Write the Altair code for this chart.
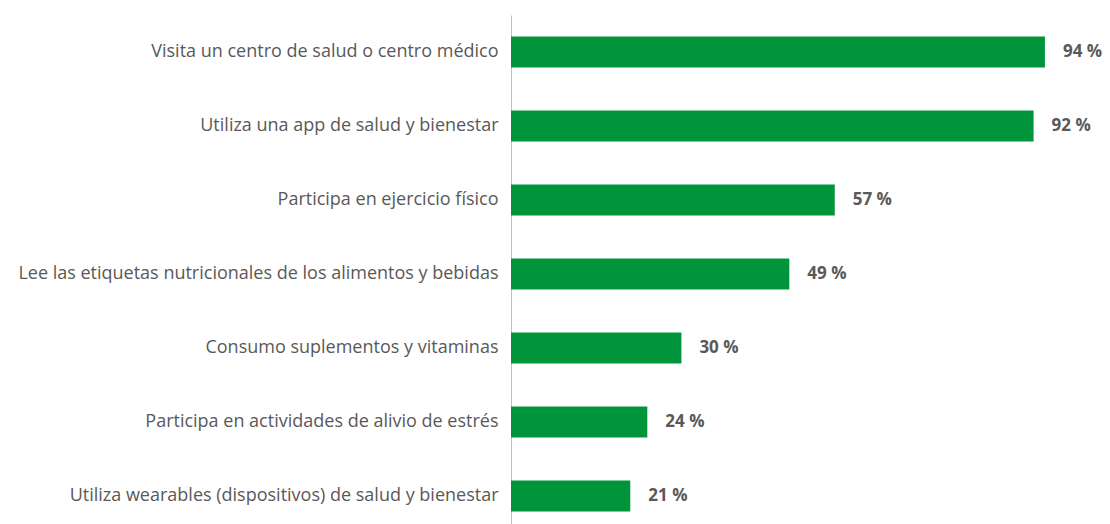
import altair as alt
import pandas as pd

categories = [
    "Visita un centro de salud o centro médico",
    "Utiliza una app de salud y bienestar",
    "Participa en ejercicio físico",
    "Lee las etiquetas nutricionales de los alimentos y bebidas",
    "Consumo suplementos y vitaminas",
    "Participa en actividades de alivio de estrés",
    "Utiliza wearables (dispositivos) de salud y bienestar",
]
values = [94, 92, 57, 49, 30, 24, 21]

df = pd.DataFrame({"categoria": categories, "valor": values})

y_enc = alt.Y(
    "categoria:N",
    sort=categories,
    title=None,
    scale=alt.Scale(paddingInner=0.58, paddingOuter=0.29),
    axis=alt.Axis(
        ticks=False,
        domain=True,
        domainColor="#bfbfbf",
        domainWidth=1,
        labelFont="Open Sans",
        labelFontSize=18,
        labelColor="#595959",
        labelPadding=13,
        labelLimit=520,
        grid=False,
    ),
)
x_enc = alt.X("valor:Q", scale=alt.Scale(domain=[0, 100]), axis=None)

base = alt.Chart(df).encode(y=y_enc, x=x_enc)

bars = base.mark_bar(color="#00953b")

labels = (
    base.transform_calculate(etiqueta="datum.valor + ' %'")
    .mark_text(
        align="left",
        baseline="middle",
        dx=18,
        font="Open Sans",
        fontSize=17,
        fontWeight="bold",
        color="#595959",
    )
    .encode(text="etiqueta:N")
)

chart = (
    alt.layer(bars, labels)
    .properties(
        width=568,
        height=518,
        background="white",
        autosize=alt.AutoSizeParams(type="none"),
        padding={"left": 503, "top": 7, "right": 23, "bottom": 0},
    )
    .configure_view(stroke=None, strokeWidth=0)
    .configure_axis(grid=False)
)

chart.save("out.html", embed_options={"renderer": "svg", "actions": False})
